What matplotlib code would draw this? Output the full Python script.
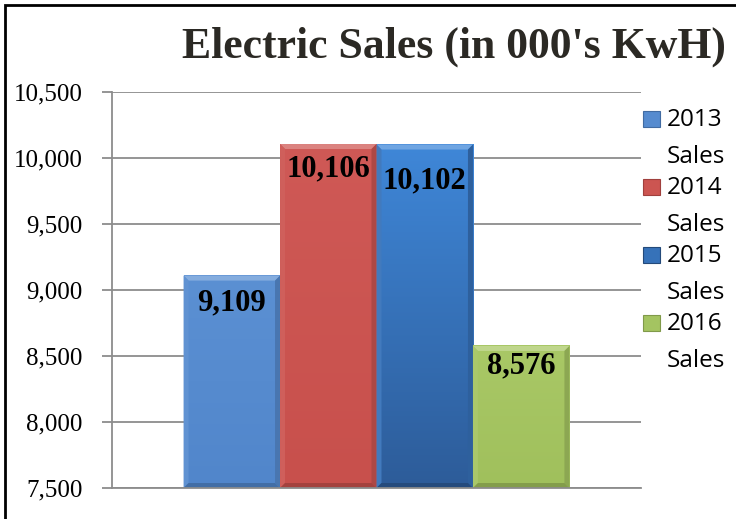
import numpy as np
import matplotlib.pyplot as plt
from matplotlib.patches import Polygon, Rectangle
from matplotlib.colors import to_rgb

# data
years = ['2013', '2014', '2015', '2016']
sales = [9109, 10106, 10102, 8576]
color_top = ['#5b90d3', '#cf5956', '#3f87d8', '#a9c866']
color_bottom = ['#5186cb', '#c8504c', '#2d5c99', '#a0c05c']
y_ticks = [7500, 8000, 8500, 9000, 9500, 10000, 10500]

W, H = 736, 519
fig = plt.figure(figsize=(W / 100, H / 100), dpi=100)
ax = fig.add_axes([112 / W, 1 - 488 / H, (641 - 112) / W, (488 - 92) / H])

x = np.arange(len(sales))
ax.set_xlim(-1.242, len(sales) - 1 + 1.242)
ax.set_ylim(y_ticks[0], y_ticks[-1])

bars = ax.bar(x, sales, width=1.0, color=color_top, zorder=2)


def mix(c, other, t):
    c = np.array(to_rgb(c))
    o = np.array(to_rgb(other))
    return tuple(c + (o - c) * t)


# pixel -> data scale for bevel depth
p0 = ax.transData.transform((0, y_ticks[0]))
p1 = ax.transData.transform((1, y_ticks[0] + 1))
sx, sy = p1[0] - p0[0], p1[1] - p0[1]
d = 5
dx, dy = d / sx, d / sy

for b, ct, cb in zip(bars, color_top, color_bottom):
    x0 = b.get_x()
    x1 = x0 + b.get_width()
    top = b.get_height()
    bot = y_ticks[0]
    grad = np.linspace(0, 1, 200)[:, None, None]
    img = np.array(to_rgb(ct))[None, None, :] * (1 - grad) + np.array(to_rgb(cb))[None, None, :] * grad
    ax.imshow(img, extent=[x0, x1, bot, top], aspect='auto', origin='upper', zorder=2.1)
    base = mix(ct, cb, 0.5)
    # bevel edges
    ax.add_patch(Polygon([(x0, top), (x1, top), (x1 - dx, top - dy), (x0 + dx, top - dy)],
                         color=mix(ct, (1, 1, 1), 0.25), lw=0, zorder=2.2))
    ax.add_patch(Polygon([(x0, top), (x0 + dx, top - dy), (x0 + dx, bot + dy), (x0, bot)],
                         color=mix(base, (1, 1, 1), 0.06), lw=0, zorder=2.2))
    ax.add_patch(Polygon([(x1, top), (x1 - dx, top - dy), (x1 - dx, bot + dy), (x1, bot)],
                         color=mix(base, (0, 0, 0), 0.15), lw=0, zorder=2.2))
    ax.add_patch(Polygon([(x0, bot), (x0 + dx, bot + dy), (x1 - dx, bot + dy), (x1, bot)],
                         color=mix(cb, (0, 0, 0), 0.18), lw=0, zorder=2.2))

label_drop = [27, 25, 36, 20]
for xi, v, dr in zip(x, sales, label_drop):
    ax.annotate(f'{v:,}', xy=(xi, v), xytext=(0, -dr), textcoords='offset pixels',
                ha='center', va='center', fontsize=22, fontweight='bold',
                family='Liberation Serif', color='black', zorder=5)

ax.set_yticks(y_ticks)
ax.set_yticklabels([f'{t:,}' for t in y_ticks], family='Liberation Serif', fontsize=18)
ax.set_xticks([])
ax.tick_params(axis='y', length=7.2, width=1.3, color='#8c8c8c', pad=14)
ax.yaxis.grid(True, color='#8c8c8c', lw=1.3, zorder=0)
ax.set_axisbelow(True)
for s in ['top', 'right']:
    ax.spines[s].set_visible(False)
for s in ['left', 'bottom']:
    ax.spines[s].set_color('#8c8c8c')
    ax.spines[s].set_linewidth(1.3)

# title
fig.text(454 / W, 1 - 47 / H, "Electric Sales (in 000's KwH)", ha='center', va='center',
         fontsize=31.5, fontweight='bold', family='Liberation Serif', color='#2b2924')

# legend, drawn by hand so the swatch sits beside the first line
for i, (yr, ct, cb) in enumerate(zip(years, color_top, color_bottom)):
    yc = 120 + i * 68
    fig.add_artist(Rectangle((643 / W, 1 - (yc + 7) / H), 17 / W, 16 / H,
                             transform=fig.transFigure, facecolor=mix(ct, cb, 0.5),
                             edgecolor=mix(cb, (0, 0, 0), 0.2), lw=0.8))
    fig.text(667 / W, 1 - yc / H, yr, ha='left', va='center', fontsize=17.5, family='Open Sans')
    fig.text(667 / W, 1 - (yc + 37) / H, 'Sales', ha='left', va='center', fontsize=17.5,
             family='Open Sans')

# outer border
fig.add_artist(Rectangle((5 / W, -0.1), 1.2, 1.1 - 5 / H, transform=fig.transFigure,
                         fill=False, edgecolor='black', lw=2))

fig.savefig('out.png', dpi=100)
